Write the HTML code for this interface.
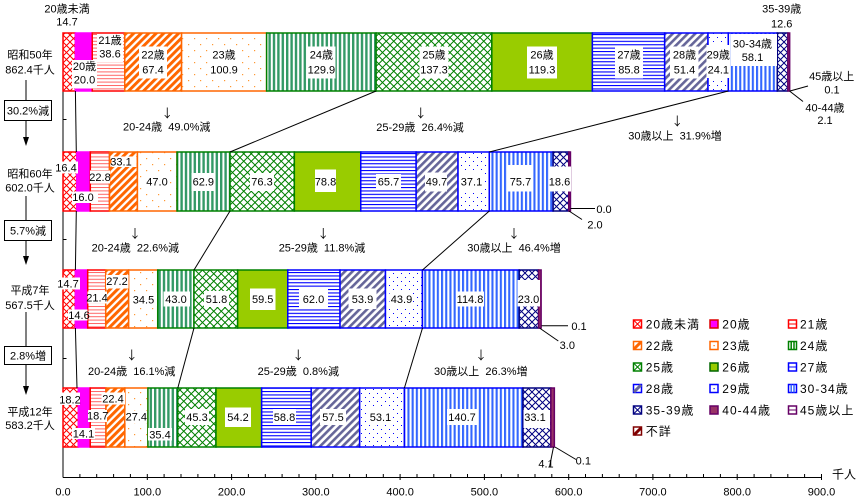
<!DOCTYPE html>
<html><head><meta charset="utf-8"><style>
html,body{margin:0;padding:0;background:#fff;}
svg{display:block;}
text{font-family:"Liberation Sans","Noto Sans CJK JP","DejaVu Sans",sans-serif;font-size:11px;fill:#000;}
.m{text-anchor:middle;}
.ar{font-family:"Noto Sans CJK JP",sans-serif;font-size:12px;}
.lg{font-size:12px;letter-spacing:1px;}
</style></head><body>
<svg width="860" height="498" viewBox="0 0 860 498" xmlns="http://www.w3.org/2000/svg">
<defs>
<pattern id="pRX" width="7" height="7" patternUnits="userSpaceOnUse"><rect width="7" height="7" fill="#fff"/><path d="M0 0L7 7M7 0L0 7" stroke="#ff0000" stroke-width="1"/></pattern>
<pattern id="pRH" width="4" height="3.4" patternUnits="userSpaceOnUse"><rect width="4" height="3.4" fill="#fff"/><rect width="4" height="1" fill="#ff6666"/></pattern>
<pattern id="pOD" width="5.3" height="10" patternUnits="userSpaceOnUse" patternTransform="rotate(45)"><rect width="5.3" height="10" fill="#fff"/><rect width="3" height="10" fill="#ff6600"/></pattern>
<pattern id="pOdot" width="12" height="12" patternUnits="userSpaceOnUse"><rect width="12" height="12" fill="#fff"/><rect x="2" y="2" width="1.2" height="1.2" fill="#ff9933"/><rect x="8" y="8" width="1.2" height="1.2" fill="#ff9933"/></pattern>
<pattern id="pGV" width="4.4" height="10" patternUnits="userSpaceOnUse"><rect width="4.4" height="10" fill="#fff"/><rect width="2.4" height="10" fill="#339966"/></pattern>
<pattern id="pGX" width="7.5" height="7.5" patternUnits="userSpaceOnUse"><rect width="7.5" height="7.5" fill="#fff"/><path d="M0 0L7.5 7.5M7.5 0L0 7.5" stroke="#008000" stroke-width="1"/></pattern>
<pattern id="pBH" width="4" height="3.4" patternUnits="userSpaceOnUse"><rect width="4" height="3.4" fill="#fff"/><rect width="4" height="1.1" fill="#0000ff"/></pattern>
<pattern id="pSD" width="5.3" height="10" patternUnits="userSpaceOnUse" patternTransform="rotate(45)"><rect width="5.3" height="10" fill="#fff"/><rect width="2.6" height="10" fill="#666699"/></pattern>
<pattern id="pBdot" width="8" height="8" patternUnits="userSpaceOnUse"><rect width="8" height="8" fill="#fff"/><rect x="1" y="1" width="1" height="1" fill="#0000ff"/><rect x="5" y="5" width="1" height="1" fill="#0000ff"/></pattern>
<pattern id="pBV" width="4.2" height="10" patternUnits="userSpaceOnUse"><rect width="4.2" height="10" fill="#fff"/><rect width="2.1" height="10" fill="#3366ff"/></pattern>
<pattern id="pNX" width="7" height="7" patternUnits="userSpaceOnUse"><rect width="7" height="7" fill="#fff"/><path d="M0 0L7 7M7 0L0 7" stroke="#000080" stroke-width="1"/></pattern>
</defs>
<rect width="860" height="498" fill="#fff"/>

<!-- axes -->
<g stroke="#000" stroke-width="1" fill="none">
<line x1="63" y1="33" x2="63" y2="477.5"/>
<line x1="63" y1="477.5" x2="822" y2="477.5"/>
<line x1="63" y1="119.5" x2="66.5" y2="119.5"/>
<line x1="63" y1="239.5" x2="66.5" y2="239.5"/>
<line x1="63" y1="358.5" x2="66.5" y2="358.5"/>
</g>
<g stroke="#000" stroke-width="1">
<path d="M79.9 474V477M96.7 474V477M113.6 474V477M130.4 474V477M147.3 474V480M164.1 474V477M181 474V477M197.9 474V477M214.7 474V477M231.6 474V480M248.4 474V477M265.3 474V477M282.1 474V477M299 474V477M315.8 474V480M332.7 474V477M349.6 474V477M366.4 474V477M383.3 474V477M400.1 474V480M417 474V477M433.8 474V477M450.7 474V477M467.5 474V477M484.4 474V480M501.3 474V477M518.1 474V477M535 474V477M551.8 474V477M568.7 474V480M585.5 474V477M602.4 474V477M619.2 474V477M636.1 474V477M652.9 474V480M669.8 474V477M686.7 474V477M703.5 474V477M720.4 474V477M737.2 474V480M754.1 474V477M770.9 474V477M787.8 474V477M804.6 474V477M821.5 474V480"/>
</g>

<!-- Bar 1 -->
<g stroke-width="1.5">
<rect x="63" y="33" width="12.39" height="58" fill="url(#pRX)" stroke="#ff0000"/>
<rect x="75.39" y="33" width="16.86" height="58" fill="#ff00ff" stroke="#ff00ff"/>
<rect x="92.25" y="33" width="32.53" height="58" fill="url(#pRH)" stroke="#ff0000"/>
<rect x="124.78" y="33" width="56.8" height="58" fill="url(#pOD)" stroke="#ff6600"/>
<rect x="181.58" y="33" width="85.04" height="58" fill="url(#pOdot)" stroke="#ff6600"/>
<rect x="266.62" y="33" width="109.48" height="58" fill="url(#pGV)" stroke="#008000"/>
<rect x="376.1" y="33" width="115.72" height="58" fill="url(#pGX)" stroke="#008000"/>
<rect x="491.82" y="33" width="100.54" height="58" fill="#99cc00" stroke="#008000"/>
<rect x="592.36" y="33" width="72.32" height="58" fill="url(#pBH)" stroke="#0000ff"/>
<rect x="664.68" y="33" width="43.32" height="58" fill="url(#pSD)" stroke="#0000ff"/>
<rect x="708" y="33" width="20.31" height="58" fill="url(#pBdot)" stroke="#0000ff"/>
<rect x="728.31" y="33" width="48.96" height="58" fill="url(#pBV)" stroke="#0000ff"/>
<rect x="777.27" y="33" width="10.62" height="58" fill="url(#pNX)" stroke="#000080"/>
<rect x="787.89" y="33" width="1.77" height="58" fill="#993366" stroke="#660066"/>
</g>
<!-- Bar 2 -->
<g stroke-width="1.5">
<rect x="63" y="152" width="13.82" height="59" fill="url(#pRX)" stroke="#ff0000"/>
<rect x="76.82" y="152" width="13.49" height="59" fill="#ff00ff" stroke="#ff00ff"/>
<rect x="90.31" y="152" width="19.21" height="59" fill="url(#pRH)" stroke="#ff0000"/>
<rect x="109.52" y="152" width="27.9" height="59" fill="url(#pOD)" stroke="#ff6600"/>
<rect x="137.42" y="152" width="39.61" height="59" fill="url(#pOdot)" stroke="#ff6600"/>
<rect x="177.03" y="152" width="53.01" height="59" fill="url(#pGV)" stroke="#008000"/>
<rect x="230.04" y="152" width="64.31" height="59" fill="url(#pGX)" stroke="#008000"/>
<rect x="294.35" y="152" width="66.41" height="59" fill="#99cc00" stroke="#008000"/>
<rect x="360.76" y="152" width="55.37" height="59" fill="url(#pBH)" stroke="#0000ff"/>
<rect x="416.13" y="152" width="41.89" height="59" fill="url(#pSD)" stroke="#0000ff"/>
<rect x="458.02" y="152" width="31.27" height="59" fill="url(#pBdot)" stroke="#0000ff"/>
<rect x="489.29" y="152" width="63.8" height="59" fill="url(#pBV)" stroke="#0000ff"/>
<rect x="553.09" y="152" width="15.67" height="59" fill="url(#pNX)" stroke="#000080"/>
<rect x="568.76" y="152" width="1.69" height="59" fill="#993366" stroke="#660066"/>
</g>
<!-- Bar 3 -->
<g stroke-width="1.5">
<rect x="63" y="270" width="12.39" height="58" fill="url(#pRX)" stroke="#ff0000"/>
<rect x="75.39" y="270" width="12.3" height="58" fill="#ff00ff" stroke="#ff00ff"/>
<rect x="87.69" y="270" width="18.04" height="58" fill="url(#pRH)" stroke="#ff0000"/>
<rect x="105.73" y="270" width="22.92" height="58" fill="url(#pOD)" stroke="#ff6600"/>
<rect x="128.65" y="270" width="29.08" height="58" fill="url(#pOdot)" stroke="#ff6600"/>
<rect x="157.73" y="270" width="36.24" height="58" fill="url(#pGV)" stroke="#008000"/>
<rect x="193.97" y="270" width="43.66" height="58" fill="url(#pGX)" stroke="#008000"/>
<rect x="237.63" y="270" width="50.15" height="58" fill="#99cc00" stroke="#008000"/>
<rect x="287.78" y="270" width="52.25" height="58" fill="url(#pBH)" stroke="#0000ff"/>
<rect x="340.03" y="270" width="45.43" height="58" fill="url(#pSD)" stroke="#0000ff"/>
<rect x="385.46" y="270" width="36.99" height="58" fill="url(#pBdot)" stroke="#0000ff"/>
<rect x="422.45" y="270" width="96.76" height="58" fill="url(#pBV)" stroke="#0000ff"/>
<rect x="519.21" y="270" width="19.38" height="58" fill="url(#pNX)" stroke="#000080"/>
<rect x="538.59" y="270" width="2.53" height="58" fill="#993366" stroke="#660066"/>
</g>
<!-- Bar 4 -->
<g stroke-width="1.5">
<rect x="63" y="388" width="15.34" height="59" fill="url(#pRX)" stroke="#ff0000"/>
<rect x="78.34" y="388" width="11.88" height="59" fill="#ff00ff" stroke="#ff00ff"/>
<rect x="90.22" y="388" width="15.76" height="59" fill="url(#pRH)" stroke="#ff0000"/>
<rect x="105.98" y="388" width="18.88" height="59" fill="url(#pOD)" stroke="#ff6600"/>
<rect x="124.86" y="388" width="23.09" height="59" fill="url(#pOdot)" stroke="#ff6600"/>
<rect x="147.95" y="388" width="29.84" height="59" fill="url(#pGV)" stroke="#008000"/>
<rect x="177.79" y="388" width="38.18" height="59" fill="url(#pGX)" stroke="#008000"/>
<rect x="215.97" y="388" width="45.68" height="59" fill="#99cc00" stroke="#008000"/>
<rect x="261.65" y="388" width="49.55" height="59" fill="url(#pBH)" stroke="#0000ff"/>
<rect x="311.2" y="388" width="48.47" height="59" fill="url(#pSD)" stroke="#0000ff"/>
<rect x="359.67" y="388" width="44.75" height="59" fill="url(#pBdot)" stroke="#0000ff"/>
<rect x="404.42" y="388" width="118.58" height="59" fill="url(#pBV)" stroke="#0000ff"/>
<rect x="523" y="388" width="27.9" height="59" fill="url(#pNX)" stroke="#000080"/>
<rect x="550.9" y="388" width="3.45" height="59" fill="#993366" stroke="#660066"/>
</g>

<!-- connectors -->
<g stroke="#000" stroke-width="1" fill="none">
<line x1="75.4" y1="91" x2="76.3" y2="152"/>
<line x1="376.1" y1="91" x2="230" y2="152"/>
<line x1="728.3" y1="91" x2="489.3" y2="152"/>
<line x1="76.3" y1="211" x2="75.4" y2="270"/>
<line x1="230" y1="211" x2="194" y2="270"/>
<line x1="489.3" y1="211" x2="422.5" y2="270"/>
<line x1="75.4" y1="328" x2="77" y2="388"/>
<line x1="194" y1="328" x2="177.8" y2="388"/>
<line x1="422.5" y1="328" x2="404.4" y2="388"/>
<line x1="790" y1="91" x2="808" y2="86"/>
<line x1="789.5" y1="91" x2="803" y2="101.5"/>
<line x1="570.5" y1="208.5" x2="595" y2="208.5"/>
<line x1="569" y1="211" x2="582" y2="219.5"/>
<line x1="541.5" y1="325.7" x2="568" y2="325.7"/>
<line x1="539.5" y1="328" x2="558.3" y2="341"/>
<line x1="553.5" y1="447" x2="549.5" y2="467"/>
<line x1="555" y1="447" x2="576" y2="459.5"/>
<line x1="26" y1="80" x2="26" y2="100.5"/>
<line x1="26" y1="120.5" x2="26" y2="142"/>
<line x1="26" y1="196" x2="26" y2="220.5"/>
<line x1="26" y1="240.5" x2="26" y2="261"/>
<line x1="26" y1="312" x2="26" y2="346.5"/>
<line x1="26" y1="364.5" x2="26" y2="391"/>
</g>
<g fill="#000">
<polygon points="23,137 29,137 26,146"/>
<polygon points="23,256 29,256 26,265"/>
<polygon points="23,386 29,386 26,395"/>
</g>
<g fill="#fff" stroke="#000" stroke-width="1">
<rect x="4.5" y="100.5" width="47" height="20"/>
<rect x="4.5" y="220.5" width="47" height="20"/>
<rect x="4.5" y="346.5" width="47" height="18"/>
</g>

<!-- label boxes -->
<g fill="#fff">
<rect x="72" y="60" width="25" height="28.5"/>
<rect x="97" y="34" width="26" height="28"/>
<rect x="139" y="46.5" width="28" height="32"/>
<rect x="208" y="46.5" width="31" height="32"/>
<rect x="307" y="46.5" width="28.5" height="32"/>
<rect x="419.5" y="46.5" width="29" height="32"/>
<rect x="527" y="46.5" width="30" height="32"/>
<rect x="615" y="46.5" width="28" height="32"/>
<rect x="670" y="46.5" width="28.5" height="32"/>
<rect x="706.5" y="45" width="23" height="33"/>
<rect x="731" y="34" width="46" height="32"/>
<rect x="53" y="161.5" width="25" height="12"/>
<rect x="72" y="191.5" width="26" height="11.5"/>
<rect x="90" y="170.5" width="20" height="13"/>
<rect x="111.5" y="156.5" width="25" height="10.5"/>
<rect x="146" y="173" width="22" height="17"/>
<rect x="191.5" y="173" width="23.5" height="18"/>
<rect x="250" y="173" width="24" height="18"/>
<rect x="315" y="169.5" width="21" height="22.5"/>
<rect x="376" y="174" width="25" height="15"/>
<rect x="425" y="172.5" width="22" height="19"/>
<rect x="461" y="172" width="23" height="19"/>
<rect x="506.5" y="165" width="25.5" height="26.5"/>
<rect x="548.5" y="166.5" width="22.5" height="25"/>
<rect x="55" y="277.5" width="25" height="12"/>
<rect x="68" y="309.5" width="19.5" height="11"/>
<rect x="87.5" y="291.5" width="19.5" height="12"/>
<rect x="106" y="275" width="22.5" height="13.5"/>
<rect x="131" y="293" width="26" height="13"/>
<rect x="163.5" y="291.5" width="26.5" height="15"/>
<rect x="204" y="291" width="25" height="16"/>
<rect x="250" y="288.5" width="25.5" height="21.5"/>
<rect x="299" y="288.5" width="29" height="20"/>
<rect x="348.5" y="288.5" width="28" height="20.5"/>
<rect x="389.5" y="291" width="23" height="16"/>
<rect x="456" y="291.5" width="28" height="15"/>
<rect x="517.5" y="280" width="22.5" height="26.5"/>
<rect x="60" y="392.5" width="20" height="12.5"/>
<rect x="72" y="428" width="23" height="11"/>
<rect x="88" y="410" width="19" height="12"/>
<rect x="101.5" y="392.5" width="23.5" height="12"/>
<rect x="125.5" y="410.5" width="21.5" height="12.5"/>
<rect x="148" y="428" width="24" height="12.5"/>
<rect x="185" y="409" width="24" height="16"/>
<rect x="225" y="407.5" width="26" height="19.5"/>
<rect x="273" y="409" width="23" height="16"/>
<rect x="320" y="409" width="26" height="16"/>
<rect x="368" y="409" width="25" height="16"/>
<rect x="447" y="409" width="30" height="16"/>
<rect x="523.5" y="410" width="26.5" height="18"/>
</g>

<!-- texts -->
<g>
<text class="m" x="67" y="12.3">20歳未満</text>
<text class="m" x="67" y="25.7">14.7</text>
<text class="m" x="781.7" y="12.3">35-39歳</text>
<text class="m" x="781.7" y="27.3">12.6</text>
<text class="m" x="831.7" y="80">45歳以上</text>
<text class="m" x="832" y="93.3">0.1</text>
<text class="m" x="825" y="111.3">40-44歳</text>
<text class="m" x="825" y="124">2.1</text>

<text class="m" x="30" y="58.3">昭和50年</text>
<text class="m" x="30" y="73.3">862.4千人</text>
<text class="m" x="28" y="114.5">30.2%減</text>
<text class="m" x="30" y="177.3">昭和60年</text>
<text class="m" x="30" y="191.3">602.0千人</text>
<text class="m" x="28" y="234.5">5.7%減</text>
<text class="m" x="30" y="294">平成7年</text>
<text class="m" x="30" y="309">567.5千人</text>
<text class="m" x="28" y="359.5">2.8%増</text>
<text class="m" x="30" y="415.7">平成12年</text>
<text class="m" x="30" y="429">583.2千人</text>

<text class="m" x="84.5" y="70">20歳</text>
<text class="m" x="84.5" y="83.3">20.0</text>
<text class="m" x="110" y="44">21歳</text>
<text class="m" x="110" y="57.3">38.6</text>
<text class="m" x="153" y="58.3">22歳</text>
<text class="m" x="153" y="73.3">67.4</text>
<text class="m" x="224" y="58.3">23歳</text>
<text class="m" x="224" y="73.3">100.9</text>
<text class="m" x="321.4" y="58.3">24歳</text>
<text class="m" x="321.4" y="73.3">129.9</text>
<text class="m" x="434" y="58.3">25歳</text>
<text class="m" x="434" y="73.3">137.3</text>
<text class="m" x="542" y="58.3">26歳</text>
<text class="m" x="542" y="73.3">119.3</text>
<text class="m" x="629" y="58.3">27歳</text>
<text class="m" x="629" y="73.3">85.8</text>
<text class="m" x="684.5" y="58.3">28歳</text>
<text class="m" x="684.5" y="73.3">51.4</text>
<text class="m" x="718.3" y="58.3">29歳</text>
<text class="m" x="718.3" y="73.3">24.1</text>
<text class="m" x="752.5" y="47.3">30-34歳</text>
<text class="m" x="752.5" y="61">58.1</text>

<text class="m" x="66" y="171.7">16.4</text>
<text class="m" x="83" y="201">16.0</text>
<text class="m" x="100" y="181">22.8</text>
<text class="m" x="121" y="165.7">33.1</text>
<text class="m" x="157" y="185.5">47.0</text>
<text class="m" x="203.3" y="185.5">62.9</text>
<text class="m" x="262" y="185.5">76.3</text>
<text class="m" x="325.5" y="185.5">78.8</text>
<text class="m" x="388.5" y="185.5">65.7</text>
<text class="m" x="436.5" y="185.5">49.7</text>
<text class="m" x="471.5" y="185.5">37.1</text>
<text class="m" x="520.5" y="185.5">75.7</text>
<text class="m" x="559.5" y="185.5">18.6</text>
<text class="m" x="604" y="213">0.0</text>
<text class="m" x="595" y="228.3">2.0</text>

<text class="m" x="68" y="287.3">14.7</text>
<text class="m" x="79" y="319">14.6</text>
<text class="m" x="97" y="301.7">21.4</text>
<text class="m" x="117" y="285">27.2</text>
<text class="m" x="143.5" y="303.5">34.5</text>
<text class="m" x="176" y="303">43.0</text>
<text class="m" x="216.5" y="303">51.8</text>
<text class="m" x="262.7" y="303">59.5</text>
<text class="m" x="313.5" y="303">62.0</text>
<text class="m" x="362.5" y="303">53.9</text>
<text class="m" x="401.5" y="303">43.9</text>
<text class="m" x="470" y="303">114.8</text>
<text class="m" x="528.5" y="303">23.0</text>
<text class="m" x="579" y="330">0.1</text>
<text class="m" x="567.3" y="349">3.0</text>

<text class="m" x="70" y="403.3">18.2</text>
<text class="m" x="83.5" y="437.5">14.1</text>
<text class="m" x="97.7" y="419.7">18.7</text>
<text class="m" x="113" y="402.3">22.4</text>
<text class="m" x="136.3" y="420.7">27.4</text>
<text class="m" x="160" y="438.3">35.4</text>
<text class="m" x="197" y="421">45.3</text>
<text class="m" x="238" y="421">54.2</text>
<text class="m" x="284.5" y="421">58.8</text>
<text class="m" x="333" y="421">57.5</text>
<text class="m" x="380.5" y="421">53.1</text>
<text class="m" x="462" y="421">140.7</text>
<text class="m" x="535" y="421">33.1</text>
<text class="m" x="546" y="467.3">4.1</text>
<text class="m" x="583.3" y="464.7">0.1</text>

<text class="m ar" x="167.3" y="117.5">↓</text>
<text class="m" x="166.7" y="130.7">20-24歳&#160;&#160;49.0%減</text>
<text class="m ar" x="420.7" y="117.5">↓</text>
<text class="m" x="420" y="131">25-29歳&#160;&#160;26.4%減</text>
<text class="m ar" x="677.3" y="125.5">↓</text>
<text class="m" x="675" y="139.7">30歳以上&#160;&#160;31.9%増</text>

<text class="m ar" x="135" y="238">↓</text>
<text class="m" x="135.3" y="251.3">20-24歳&#160;&#160;22.6%減</text>
<text class="m ar" x="323.3" y="238">↓</text>
<text class="m" x="322" y="251.3">25-29歳&#160;&#160;11.8%減</text>
<text class="m ar" x="514" y="238">↓</text>
<text class="m" x="514" y="251.3">30歳以上&#160;&#160;46.4%増</text>

<text class="m ar" x="131.7" y="359.5">↓</text>
<text class="m" x="131.7" y="375">20-24歳&#160;&#160;16.1%減</text>
<text class="m ar" x="298.3" y="359.5">↓</text>
<text class="m" x="298.3" y="375">25-29歳&#160;&#160;0.8%減</text>
<text class="m ar" x="481" y="359.5">↓</text>
<text class="m" x="480.8" y="375">30歳以上&#160;&#160;26.3%増</text>

<text class="m" x="63" y="495.7">0.0</text>
<text class="m" x="147.3" y="495.7">100.0</text>
<text class="m" x="231.6" y="495.7">200.0</text>
<text class="m" x="315.8" y="495.7">300.0</text>
<text class="m" x="400.1" y="495.7">400.0</text>
<text class="m" x="484.4" y="495.7">500.0</text>
<text class="m" x="568.7" y="495.7">600.0</text>
<text class="m" x="652.9" y="495.7">700.0</text>
<text class="m" x="737.2" y="495.7">800.0</text>
<text class="m" x="821.5" y="495.7">900.0</text>
<text class="m" x="844" y="478.5" style="font-size:12px">千人</text>
</g>

<!-- legend -->
<g stroke-width="1.5">
<rect x="633.5" y="320" width="8" height="8" fill="#fff" stroke="#ff0000"/>
<path d="M633.5 320L641.5 328M641.5 320L633.5 328" stroke="#ff0000" stroke-width="1"/>
<rect x="710" y="320" width="8" height="8" fill="#ff00ff" stroke="#dd0000"/>
<rect x="788.5" y="320" width="8" height="8" fill="#fff" stroke="#ff0000"/>
<path d="M788.5 324H796.5" stroke="#ff0000" stroke-width="1"/>
<rect x="633.5" y="341.5" width="8" height="8" fill="#fff" stroke="#ff6600"/>
<path d="M634 349L641 342" stroke="#ff6600" stroke-width="3"/>
<rect x="710" y="341.5" width="8" height="8" fill="#fff" stroke="#ff6600"/>
<rect x="713.5" y="345" width="1.2" height="1.2" fill="#ff6600" stroke="none"/>
<rect x="788.5" y="341.5" width="8" height="8" fill="#fff" stroke="#008000"/>
<path d="M791.2 341.5V349.5M794 341.5V349.5" stroke="#008000" stroke-width="1.5"/>
<rect x="633.5" y="363" width="8" height="8" fill="#fff" stroke="#008000"/>
<path d="M633.5 363L641.5 371M641.5 363L633.5 371" stroke="#008000" stroke-width="1"/>
<rect x="710" y="363" width="8" height="8" fill="#99cc00" stroke="#006600"/>
<rect x="788.5" y="363" width="8" height="8" fill="#fff" stroke="#0000ff"/>
<path d="M788.5 367H796.5" stroke="#0000ff" stroke-width="1"/>
<rect x="633.5" y="384.5" width="8" height="8" fill="#fff" stroke="#0000ff"/>
<path d="M634 392L641 385" stroke="#666699" stroke-width="3"/>
<rect x="710" y="384.5" width="8" height="8" fill="#fff" stroke="#0000ff"/>
<rect x="713.5" y="388" width="1.2" height="1.2" fill="#0000ff" stroke="none"/>
<rect x="788.5" y="384.5" width="8" height="8" fill="#fff" stroke="#0000ff"/>
<path d="M791.2 384.5V392.5M794 384.5V392.5" stroke="#3366ff" stroke-width="1.5"/>
<rect x="633.5" y="406" width="8" height="8" fill="#fff" stroke="#000080"/>
<path d="M633.5 406L641.5 414M641.5 406L633.5 414" stroke="#000080" stroke-width="1"/>
<rect x="710" y="406" width="8" height="8" fill="#993366" stroke="#660066"/>
<rect x="788.5" y="406" width="8" height="8" fill="#fff" stroke="#660066"/>
<path d="M788.5 410H796.5" stroke="#660066" stroke-width="1"/>
<rect x="633.5" y="427" width="8" height="8" fill="#fff" stroke="#800000"/>
<path d="M634 435L641 428" stroke="#800000" stroke-width="3"/>
</g>
<g>
<text class="lg" x="645.7" y="328.5">20歳未満</text>
<text class="lg" x="722.3" y="328.5">20歳</text>
<text class="lg" x="800" y="328.5">21歳</text>
<text class="lg" x="645.7" y="350">22歳</text>
<text class="lg" x="722.3" y="350">23歳</text>
<text class="lg" x="800" y="350">24歳</text>
<text class="lg" x="645.7" y="371.5">25歳</text>
<text class="lg" x="722.3" y="371.5">26歳</text>
<text class="lg" x="800" y="371.5">27歳</text>
<text class="lg" x="645.7" y="393">28歳</text>
<text class="lg" x="722.3" y="393">29歳</text>
<text class="lg" x="800" y="393">30-34歳</text>
<text class="lg" x="645.7" y="414.5">35-39歳</text>
<text class="lg" x="722.3" y="414.5">40-44歳</text>
<text class="lg" x="800" y="414.5">45歳以上</text>
<text class="lg" x="645.7" y="435.5">不詳</text>
</g>
</svg>
</body></html>
